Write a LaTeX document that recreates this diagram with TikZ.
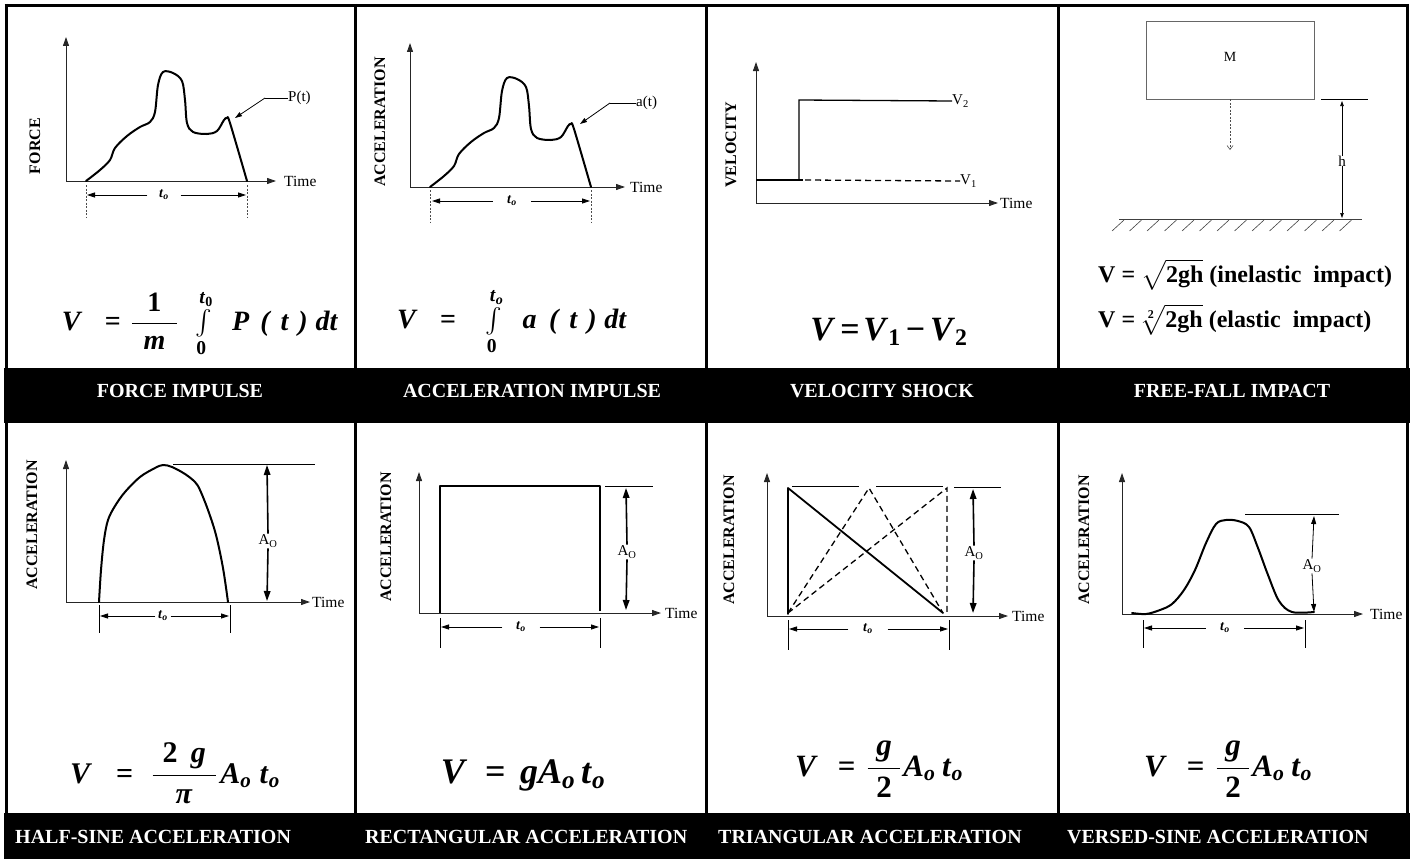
\RequirePackage{fix-cm}
\documentclass[tikz,border=0pt]{standalone}
\usepackage{amsmath}
\usepackage{fontspec}
\setmainfont{Liberation Serif}
\usetikzlibrary{arrows.meta}
\newcommand{\bi}[1]{\textbf{\textit{#1}}}
\newcommand{\fs}[1]{\fontsize{#1}{#1}\selectfont}
\newcommand{\beq}{\textbf{=}}
\newsavebox{\eqA}\newsavebox{\eqB}\newsavebox{\eqC}\newsavebox{\eqE}
\newsavebox{\eqF}\newsavebox{\eqG}\newsavebox{\eqH}\newsavebox{\eqI}
\begin{document}
\global\setbox\eqA=\hbox{\fs{28}$\bi{V}\hspace{0.8em}\beq\hspace{0.35em}\dfrac{\mkern10mu\textbf{1}\mkern10mu}{\bi{m}}\mkern8mu\int\limits_{\textbf{0}}^{\bi{t}_{\textbf{0}}}\mkern10mu\bi{P}\mkern7mu\bi{(}\mkern6mu\bi{t}\mkern6mu\bi{)}\mkern5mu\bi{dt}$}%
\global\setbox\eqB=\hbox{\fs{28}$\bi{V}\hspace{0.8em}\beq\hspace{0.9em}\int\limits_{\textbf{0}}^{\bi{t}_{\bi{o}}}\mkern10mu\bi{a}\mkern8mu\bi{(}\mkern6mu\bi{t}\mkern6mu\bi{)}\mkern5mu\bi{dt}$}%
\global\setbox\eqC=\hbox{\fs{34}$\bi{V}\hspace{0.15em}\beq\hspace{0.1em}\bi{V}_{\textbf{1}}\hspace{0.15em}\textbf{−}\hspace{0.15em}\bi{V}_{\textbf{2}}$}%
\global\setbox\eqE=\hbox{\fs{30}$\bi{V}\hspace{0.8em}\beq\hspace{0.6em}\dfrac{\mkern6mu\textbf{2}\mkern8mu\bi{g}\mkern6mu}{\bi{π}}\mkern2mu\bi{A}_{\bi{o}}\mkern5mu\bi{t}_{\bi{o}}$}%
\global\setbox\eqF=\hbox{\fs{36}$\bi{V}\hspace{0.5em}\beq\hspace{0.4em}\bi{g}\bi{A}_{\bi{o}}\mkern3mu\bi{t}_{\bi{o}}$}%
\global\setbox\eqG=\hbox{\fs{31}$\bi{V}\hspace{0.65em}\beq\hspace{0.35em}\dfrac{\mkern5mu\bi{g}\mkern5mu}{\textbf{2}}\mkern1mu\bi{A}_{\bi{o}}\mkern4mu\bi{t}_{\bi{o}}$}%
\global\setbox\eqH=\hbox{\fs{24}\textbf{V = }$\sqrt{\textbf{2gh}}$\textbf{ (inelastic~ impact)}}%
\global\setbox\eqI=\hbox{\fs{24}\textbf{V = }$\sqrt[\textbf{2}]{\textbf{2gh}}$\textbf{ (elastic~ impact)}}%
\begin{tikzpicture}[x=1pt,y=-1pt,
  frame/.style={line width=3pt},
  axis/.style={line width=0.9pt, black!85, -{Triangle[length=9pt,width=6pt]}},
  curve/.style={line width=2pt, line join=round, line cap=round},
  thinln/.style={line width=0.8pt},
  dimarr/.style={line width=0.8pt, -{Triangle[length=8pt,width=5pt]}},
  bigarr/.style={line width=1.6pt, -{Triangle[length=10pt,width=6.5pt]}},
  smallarr/.style={line width=0.6pt, -{Triangle[length=5pt,width=3.5pt]}},
  dashv/.style={line width=0.6pt, black!70, dash pattern=on 2pt off 1.5pt},
  axlbl/.style={font=\bfseries\fs{16}, rotate=90, inner sep=0pt},
  timelbl/.style={font=\fs{15.5}, anchor=west, inner sep=0pt},
  plain/.style={font=\fs{15}, inner sep=0pt},
  tolbl/.style={font=\fs{14}, inner sep=0pt, minimum height=10pt},
  aolbl/.style={font=\fs{15}, inner sep=1pt},
  band/.style={font=\bfseries\fs{20}, text=white, inner sep=0pt},
  eqnode/.style={anchor=base, inner sep=0pt}
]
\useasboundingbox (0,0) rectangle (1412,859);

% ---------- frame and bands ----------
\fill (4,367.5) rectangle (1409.5,423);
\fill (4,813) rectangle (1410,859);
\draw[frame] (4.5,5.5) -- (1409,5.5);
\draw[frame] (6,4) -- (6,859);
\draw[frame] (1407.5,4) -- (1407.5,859);
\draw[frame] (355.5,4) -- (355.5,813);
\draw[frame] (706.5,4) -- (706.5,813);
\draw[frame] (1058.5,4) -- (1058.5,813);

\node[band] (b1) at (180,391) {FORCE IMPULSE};
\node[band] (b2) at (532,391) {ACCELERATION IMPULSE};
\node[band] (b3) at (882,391) {VELOCITY SHOCK};
\node[band] (b4) at (1232,391) {FREE-FALL IMPACT};
\node[band, anchor=west] (b5) at (15,837) {HALF-SINE ACCELERATION};
\node[band, anchor=west] (b6) at (365,837) {RECTANGULAR ACCELERATION};
\node[band, anchor=west] (b7) at (718,837) {TRIANGULAR ACCELERATION};
\node[band, anchor=west] (b8) at (1067,837) {VERSED-SINE ACCELERATION};

% ---------- Panel 1: force impulse ----------
\coordinate (p1o) at (66,181);
\draw[axis] (p1o) -- (66,37);
\draw[axis] (p1o) -- (276,181);
\node[timelbl] (p1t) at (284,181) {Time};
\node[axlbl] (p1l) at (35,146) {FORCE};
\draw[curve] plot[smooth, tension=0.55] coordinates {(86,181) (100,170) (110,160) (115,148) (127,136) (140,127) (150,122) (155,112) (158,85) (163,72) (173,73) (182,81) (185,100) (187,123) (193,132) (207,134) (217,131) (224,120) (227,118) (230,123) (247,181)};
\coordinate (p1k) at (265,98);
\node[plain, anchor=west] (p1p) at (288,98) {P(t)};
\draw[thinln] (p1k) -- (p1p.west);
\draw[dimarr, -{Triangle[length=7pt,width=4.5pt]}] (p1k) -- (235,118);
\draw[dashv] (86,185) -- (86,217);
\draw[dashv] (247,185) -- (247,217);
\node[tolbl, minimum width=33pt] (p1to) at (164,195) {$\bi{t}_{\bi{o}}$};
\draw[dimarr] (p1to.west) -- (87,195);
\draw[dimarr] (p1to.east) -- (246,195);
\node[eqnode] (p1f) at (200,330) {\usebox{\eqA}};

% ---------- Panel 2: acceleration impulse ----------
\coordinate (p2o) at (410,187);
\draw[axis] (p2o) -- (410,43);
\draw[axis] (p2o) -- (625,187);
\node[timelbl] (p2t) at (630,187) {Time};
\node[axlbl] (p2l) at (380,122) {ACCELERATION};
\begin{scope}[shift={(344,6)}]
\draw[curve] plot[smooth, tension=0.55] coordinates {(86,181) (100,170) (110,160) (115,148) (127,136) (140,127) (150,122) (155,112) (158,85) (163,72) (173,73) (182,81) (185,100) (187,123) (193,132) (207,134) (217,131) (224,120) (227,118) (230,123) (247,181)};
\end{scope}
\coordinate (p2k) at (610,103);
\node[plain, anchor=west] (p2p) at (636,103) {a(t)};
\draw[thinln] (p2k) -- (p2p.west);
\draw[dimarr, -{Triangle[length=7pt,width=4.5pt]}] (p2k) -- (580,124);
\draw[dashv] (430,190) -- (430,222);
\draw[dashv] (591,190) -- (591,222);
\node[tolbl, minimum width=38pt] (p2to) at (512,201) {$\bi{t}_{\bi{o}}$};
\draw[dimarr] (p2to.west) -- (432,201);
\draw[dimarr] (p2to.east) -- (590,201);
\node[eqnode] (p2f) at (512,328) {\usebox{\eqB}};

% ---------- Panel 3: velocity shock ----------
\coordinate (p3o) at (756,203);
\draw[axis] (p3o) -- (756,62);
\draw[axis] (p3o) -- (998,203);
\node[timelbl] (p3t) at (1000,203) {Time};
\node[axlbl] (p3l) at (731,145) {VELOCITY};
\node[plain, anchor=west] (p3v2) at (952,101) {V\textsubscript{2}};
\node[plain, anchor=west] (p3v1) at (960,181) {V\textsubscript{1}};
\draw[line width=1.4pt] (756,180) -- (803,180);
\draw[line width=1.3pt] (799,180) -- (799,100) -- (p3v2.west);
\draw[line width=1.3pt, dash pattern=on 6pt off 4pt] (805,180) -- (p3v1.west);
\node[eqnode] (p3f) at (889,340) {\usebox{\eqC}};

% ---------- Panel 4: free-fall impact ----------
\node[draw=black!60, line width=0.8pt, minimum width=168pt, minimum height=78pt, inner sep=0pt] (mass) at (1230,60) {};
\node[font=\fs{14}, inner sep=0pt] (massl) at (1230,57) {M};
\coordinate (fallend) at (1230,150);
\draw[black!70, line width=0.6pt, dash pattern=on 2pt off 1.5pt, -{Straight Barb[length=4pt,width=6pt]}] (mass.south) -- (fallend);
\draw[thinln] (1321,99) -- (1368,99);
\node[plain] (hl) at (1342,161) {h};
\draw[smallarr] (hl.north) -- (1342,101);
\draw[smallarr] (hl.south) -- (1342,218);
\draw[black!75, line width=0.9pt] (1119,219) -- (1362,219);
\foreach \i in {0,...,13} \draw[black!75, line width=0.6pt] (1112+17.5*\i,231) -- ++(12,-11);
\node[anchor=base west, inner sep=0pt] (ff1) at (1098,282) {\usebox{\eqH}};
\node[anchor=base west, inner sep=0pt] (ff2) at (1098,327) {\usebox{\eqI}};

% ---------- Panel 5: half-sine ----------
\coordinate (p5o) at (66,602);
\draw[axis] (p5o) -- (66,460);
\draw[axis] (p5o) -- (310,602);
\node[timelbl] (p5t) at (312,602) {Time};
\node[axlbl] (p5l) at (32,525) {ACCELERATION};
\draw[curve] plot[smooth, tension=0.55] coordinates {(99,602) (101,570) (104,540) (108,520) (115,506) (125,492) (140,477) (155,468) (163,465) (172,467) (185,474) (195,482) (200,490) (208,510) (216,535) (223,568) (228,602)};
\draw[thinln] (173,464) -- (315,464);
\node[aolbl] (p5a) at (268,541) {A\textsubscript{O}};
\draw[bigarr] (p5a.north) -- (267,465);
\draw[bigarr] (p5a.south) -- (267,601);
\draw[thinln] (99,605) -- (99,633);
\draw[thinln] (230,605) -- (230,633);
\node[tolbl, minimum width=15pt] (p5to) at (163,616) {$\bi{t}_{\bi{o}}$};
\draw[dimarr] (p5to.west) -- (100,616);
\draw[dimarr] (p5to.east) -- (229,616);
\node[eqnode] (p5f) at (175,783) {\usebox{\eqE}};

% ---------- Panel 6: rectangular ----------
\coordinate (p6o) at (419,613);
\draw[axis] (p6o) -- (419,472);
\draw[axis] (p6o) -- (661,613);
\node[timelbl] (p6t) at (665,613) {Time};
\node[axlbl] (p6l) at (386,537) {ACCELERATION};
\draw[curve, line cap=butt] (440,613) -- (440,486) -- (600,486) -- (600,611);
\draw[thinln] (605,486) -- (653,486);
\node[aolbl] (p6a) at (627,552) {A\textsubscript{O}};
\draw[bigarr] (p6a.north) -- (626,488);
\draw[bigarr] (p6a.south) -- (626,610);
\draw[thinln] (440,618) -- (440,648);
\draw[thinln] (600,618) -- (600,648);
\node[tolbl, minimum width=37pt] (p6to) at (521,627) {$\bi{t}_{\bi{o}}$};
\draw[dimarr] (p6to.west) -- (441,627);
\draw[dimarr] (p6to.east) -- (599,627);
\node[eqnode] (p6f) at (523,783) {\usebox{\eqF}};

% ---------- Panel 7: triangular ----------
\coordinate (p7o) at (767,616);
\draw[axis] (p7o) -- (767,473);
\draw[axis] (p7o) -- (1008,616);
\node[timelbl] (p7t) at (1012,616) {Time};
\node[axlbl] (p7l) at (729,540) {ACCELERATION};
\draw[curve, line width=1.8pt] (788,614) -- (788,488) -- (943,613);
\draw[line width=1.3pt, dash pattern=on 6pt off 4pt] (788,613) -- (869,488) -- (943,613);
\draw[line width=1.3pt, dash pattern=on 6pt off 4pt] (788,613) -- (947,488) -- (947,613);
\draw[thinln] (792,486) -- (859,486);
\draw[thinln] (876,486) -- (943,486);
\draw[thinln] (954,487) -- (1001,487);
\node[aolbl] (p7a) at (974,553) {A\textsubscript{O}};
\draw[bigarr] (p7a.north) -- (973,489);
\draw[bigarr] (p7a.south) -- (973,613);
\draw[thinln] (788,620) -- (788,650);
\draw[thinln] (949,620) -- (949,650);
\node[tolbl, minimum width=39pt] (p7to) at (868,629) {$\bi{t}_{\bi{o}}$};
\draw[dimarr] (p7to.west) -- (789,629);
\draw[dimarr] (p7to.east) -- (948,629);
\node[eqnode] (p7f) at (879,776) {\usebox{\eqG}};

% ---------- Panel 8: versed-sine ----------
\coordinate (p8o) at (1122,614);
\draw[axis] (p8o) -- (1122,473);
\draw[axis] (p8o) -- (1363,614);
\node[timelbl] (p8t) at (1370,614) {Time};
\node[axlbl] (p8l) at (1084,540) {ACCELERATION};
\draw[curve] plot[smooth, tension=0.55] coordinates {(1132,613) (1146,614) (1160,610) (1172,604) (1184,590) (1195,570) (1206,543) (1216,524) (1226,520) (1238,521) (1249,527) (1258,548) (1268,575) (1279,601) (1292,612) (1314,612)};
\draw[thinln] (1245,514) -- (1339,514);
\node[aolbl] (p8a) at (1312,566) {A\textsubscript{O}};
\draw[dimarr] (p8a.north) -- (1314,516);
\draw[dimarr] (p8a.south) -- (1314,612);
\draw[thinln] (1143,620) -- (1143,648);
\draw[thinln] (1305,620) -- (1305,648);
\node[tolbl, minimum width=38pt] (p8to) at (1225,628) {$\bi{t}_{\bi{o}}$};
\draw[dimarr] (p8to.west) -- (1144,628);
\draw[dimarr] (p8to.east) -- (1304,628);
\node[eqnode] (p8f) at (1228,776) {\usebox{\eqG}};
\end{tikzpicture}
\end{document}
